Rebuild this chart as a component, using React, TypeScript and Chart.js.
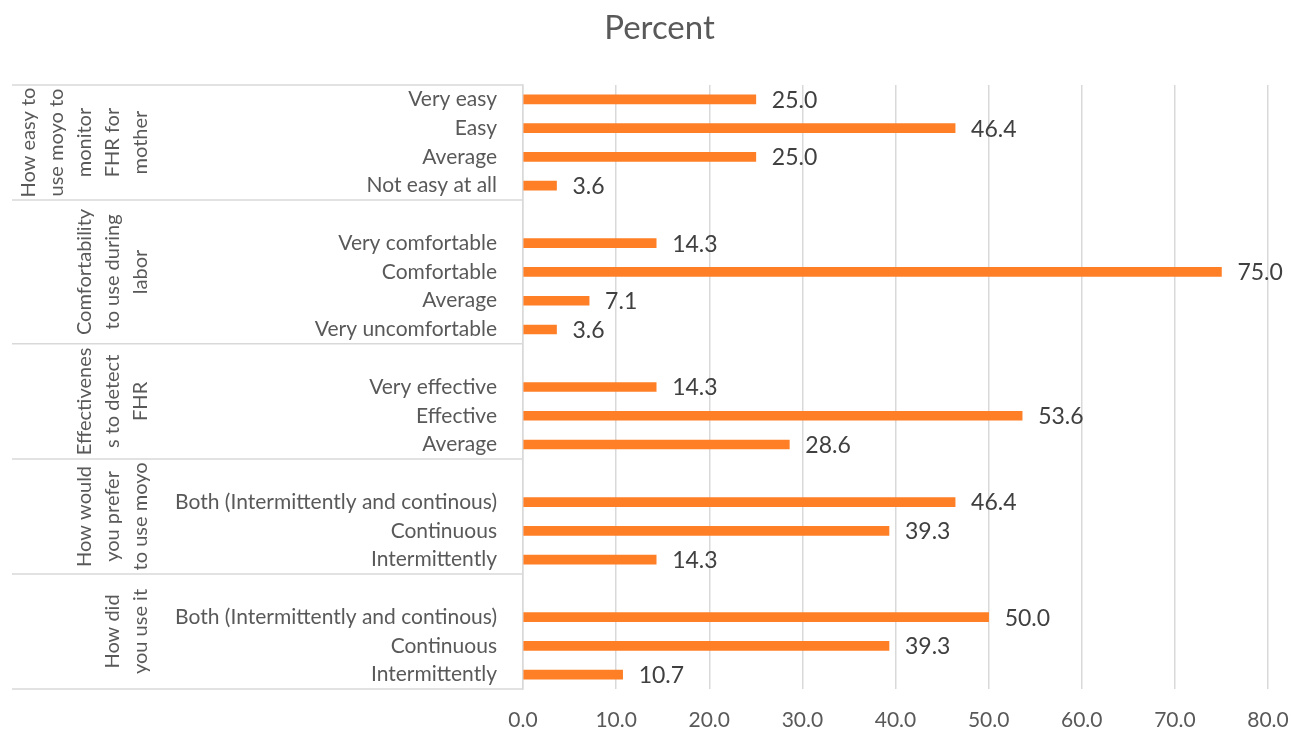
import React, { useEffect, useRef } from "react";
import { Chart, registerables } from "chart.js";

Chart.register(...registerables);

// ---- Data ----
const groupTitles: string[][] = [
  ["How easy to", "use moyo to", "monitor", "FHR for", "mother"],
  ["Comfortability", "to use during", "labor"],
  ["Effectivenes", "s to detect", "FHR"],
  ["How would", "you prefer", "to use moyo"],
  ["How did", "you use it"],
];

const easeCategories = ["Very easy", "Easy", "Average", "Not easy at all"];
const easeValues = [25.0, 46.4, 25.0, 3.6];

const comfortCategories = ["", "Very comfortable", "Comfortable", "Average", "Very uncomfortable"];
const comfortValues: (number | null)[] = [null, 14.3, 75.0, 7.1, 3.6];

const effectCategories = ["", "Very effective", "Effective", "Average"];
const effectValues: (number | null)[] = [null, 14.3, 53.6, 28.6];

const preferCategories = ["", "Both (Intermittently and continous)", "Continuous", "Intermittently"];
const preferValues: (number | null)[] = [null, 46.4, 39.3, 14.3];

const usedCategories = ["", "Both (Intermittently and continous)", "Continuous", "Intermittently"];
const usedValues: (number | null)[] = [null, 50.0, 39.3, 10.7];

const groupCategories = [easeCategories, comfortCategories, effectCategories, preferCategories, usedCategories];
const groupValues: (number | null)[][] = [easeValues, comfortValues, effectValues, preferValues, usedValues];

const xTickMin = 0;
const xTickMax = 80;
const xTickStep = 10;

// ---- Styles ----
const FONT = "Lato, 'Liberation Sans', sans-serif";
const TEXT = "#595959";
const VALUE_TEXT = "#404040";
const GRID = "#D9D9D9";
const BAR = "#FF7F27";

export default function App() {
  const ref = useRef<HTMLCanvasElement | null>(null);

  useEffect(() => {
    document.body.style.margin = "0";
    document.body.style.overflow = "hidden";
    const canvas = ref.current;
    if (!canvas) return;

    const labels: string[] = [];
    const values: (number | null)[] = [];
    const groupRanges: { start: number; end: number; title: string[] }[] = [];
    groupCategories.forEach((cats, gi) => {
      const start = labels.length;
      cats.forEach((c, i) => {
        labels.push(c);
        values.push(groupValues[gi][i]);
      });
      groupRanges.push({ start, end: labels.length - 1, title: groupTitles[gi] });
    });

    const groupPlugin = {
      id: "groupPlugin",
      afterDraw(chart: any) {
        const { ctx, chartArea } = chart;
        const y = chart.scales.y;
        const step = y.getPixelForTick(1) - y.getPixelForTick(0);
        ctx.save();
        // separator lines
        ctx.strokeStyle = GRID;
        ctx.lineWidth = 1.5;
        const bounds: number[] = [];
        groupRanges.forEach((g, i) => {
          const top = y.getPixelForTick(g.start) - step / 2;
          if (i === 0) bounds.push(top);
          bounds.push(y.getPixelForTick(g.end) + step / 2);
        });
        bounds.forEach((b) => {
          ctx.beginPath();
          ctx.moveTo(12, b);
          ctx.lineTo(chartArea.left, b);
          ctx.stroke();
        });
        // group titles (rotated)
        ctx.fillStyle = TEXT;
        ctx.font = `20px ${FONT}`;
        ctx.textAlign = "center";
        ctx.textBaseline = "middle";
        groupRanges.forEach((g) => {
          const top = y.getPixelForTick(g.start) - step / 2;
          const bottom = y.getPixelForTick(g.end) + step / 2;
          const cy = (top + bottom) / 2;
          const n = g.title.length;
          g.title.forEach((line, i) => {
            const x = chartArea.left - 382 - (n - 1 - i) * 28;
            ctx.save();
            ctx.translate(x, cy);
            ctx.rotate(-Math.PI / 2);
            ctx.fillText(line, 0, 0);
            ctx.restore();
          });
        });
        ctx.restore();
      },
      afterDatasetsDraw(chart: any) {
        const { ctx } = chart;
        const meta = chart.getDatasetMeta(0);
        const data = chart.data.datasets[0].data;
        ctx.save();
        ctx.fillStyle = VALUE_TEXT;
        ctx.font = `23px ${FONT}`;
        ctx.textAlign = "left";
        ctx.textBaseline = "middle";
        meta.data.forEach((el: any, i: number) => {
          const v = data[i];
          if (v === null || v === undefined) return;
          ctx.fillText(Number(v).toFixed(1), el.x + 16, el.y + 1);
        });
        ctx.restore();
      },
    };

    const chart = new Chart(canvas, {
      type: "bar",
      data: {
        labels,
        datasets: [
          {
            label: "Percent",
            data: values as any,
            backgroundColor: BAR,
            borderWidth: 0,
            barThickness: 9,
          },
        ],
      },
      options: {
        indexAxis: "y",
        responsive: false,
        animation: false,
        devicePixelRatio: 1,
        layout: { padding: { left: 51, right: 31, top: 0, bottom: 0 } },
        plugins: {
          legend: { display: false },
          tooltip: { enabled: false },
          title: {
            display: true,
            text: "Percent",
            color: TEXT,
            font: { family: FONT, size: 33, weight: "normal" as any, lineHeight: 1.2 },
            padding: { top: 9, bottom: 36.4 },
          },
        },
        scales: {
          x: {
            type: "linear",
            position: "bottom",
            min: xTickMin,
            max: xTickMax,
            grid: { color: GRID, lineWidth: 1.5, drawTicks: false },
            border: { display: false },
            ticks: {
              stepSize: xTickStep,
              color: TEXT,
              padding: 19,
              font: { family: FONT, size: 21 },
              callback: (v: any) => Number(v).toFixed(1),
            },
            afterFit: (s: any) => {
              s.height = 45;
              s.paddingLeft = 0;
              s.paddingRight = 0;
            },
          },
          y: {
            type: "category",
            grid: { display: false },
            border: { display: true, color: GRID, width: 1.5 },
            ticks: {
              color: TEXT,
              padding: 18,
              autoSkip: false,
              font: { family: FONT, size: 21 },
            },
            afterFit: (s: any) => {
              s.width = 472;
              s.paddingTop = 0;
              s.paddingBottom = 0;
            },
          },
        },
      },
      plugins: [groupPlugin],
    });

    return () => chart.destroy();
  }, []);

  return (
    <div style={{ width: 1299, height: 734 }}>
      <canvas ref={ref} width={1299} height={734} style={{ display: "block" }} />
    </div>
  );
}
